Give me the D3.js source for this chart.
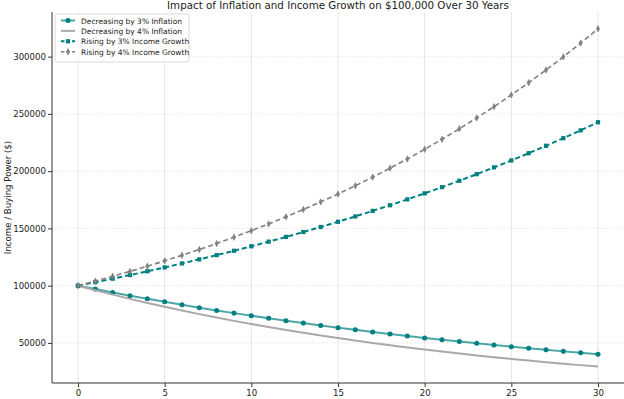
<!DOCTYPE html>
<meta charset="utf-8">
<style>
    body { margin: 0; background: #fff; }
    svg text { font-family: "DejaVu Sans", sans-serif; fill: #222; }
</style>
<script src="https://d3js.org/d3.v7.min.js"></script>
<body>
<div id="chart"></div>
<script>
    // years 0..30
    var years = d3.range(0, 31);
    var xTicks = [0, 5, 10, 15, 20, 25, 30];
    var yTicks = [50000, 100000, 150000, 200000, 250000, 300000];

    var dec3 = [100000, 97000, 94090, 91267, 88529, 85873, 83297, 80798, 78374, 76023, 73742,
        71530, 69384, 67303, 65284, 63325, 61425, 59583, 57795, 56061, 54379,
        52748, 51166, 49631, 48142, 46697, 45296, 43938, 42619, 41341, 40101];
    var dec4 = [100000, 96000, 92160, 88474, 84935, 81537, 78276, 75145, 72139, 69253, 66483,
        63824, 61271, 58820, 56467, 54209, 52040, 49959, 47960, 46042, 44200,
        42432, 40735, 39106, 37541, 36040, 34598, 33214, 31886, 30610, 29386];
    var rise3 = [100000, 103000, 106090, 109273, 112551, 115927, 119405, 122987, 126677, 130477, 134392,
        138423, 142576, 146853, 151259, 155797, 160471, 165285, 170243, 175351, 180611,
        186029, 191610, 197359, 203279, 209378, 215659, 222129, 228793, 235657, 242726];
    var rise4 = [100000, 104000, 108160, 112486, 116986, 121665, 126532, 131593, 136857, 142331, 148024,
        153945, 160103, 166507, 173168, 180094, 187298, 194790, 202582, 210685, 219112,
        227877, 236992, 246472, 256330, 266584, 277247, 288337, 299870, 311865, 324340];

    var series = [
        {name: "Decreasing by 3% Inflation", values: dec3, color: "#008080", dash: null, marker: "circle", width: 2},
        {name: "Decreasing by 4% Inflation", values: dec4, color: "#a9a9a9", dash: null, marker: null, width: 2},
        {name: "Rising by 3% Income Growth", values: rise3, color: "#008080", dash: "5,3", marker: "square", width: 2},
        {name: "Rising by 4% Income Growth", values: rise4, color: "#808080", dash: "5,3", marker: "diamond", width: 1.6}
    ];

    var W = 624, H = 399;
    var margin = {top: 12, right: 0, bottom: 16, left: 52};
    var width = W - margin.left - margin.right,
        height = H - margin.top - margin.bottom;

    var svg = d3.select("#chart").append("svg")
        .attr("width", W).attr("height", H);
    var g = svg.append("g")
        .attr("transform", "translate(" + margin.left + "," + margin.top + ")");

    var x = d3.scaleLinear().domain([-1.5, 31.5]).range([0, width]);
    var y = d3.scaleLinear().domain([15000, 339000]).range([height, 0]);

    // grid
    g.append("g").selectAll("line").data(xTicks).enter().append("line")
        .attr("x1", function(d) { return x(d); }).attr("x2", function(d) { return x(d); })
        .attr("y1", 0).attr("y2", height)
        .attr("stroke", "#e2e2e2").attr("stroke-width", 0.9);
    g.append("g").selectAll("line").data(yTicks).enter().append("line")
        .attr("x1", 0).attr("x2", width)
        .attr("y1", function(d) { return y(d); }).attr("y2", function(d) { return y(d); })
        .attr("stroke", "#d8d8d8").attr("stroke-width", 0.8).attr("stroke-dasharray", "1,1.5");

    // axes
    var xAxis = g.append("g").attr("transform", "translate(0," + height + ")")
        .call(d3.axisBottom(x).tickValues(xTicks).tickSize(4).tickPadding(3));
    var yAxis = g.append("g")
        .call(d3.axisLeft(y).tickValues(yTicks).tickSize(4).tickPadding(2).tickFormat(d3.format("d")));
    [xAxis, yAxis].forEach(function(a) {
        a.select(".domain").attr("stroke", "#333").attr("stroke-width", 1);
        a.selectAll(".tick line").attr("stroke", "#333");
        a.selectAll("text").style("font-size", "8.6px").attr("fill", "#222");
    });
    xAxis.select(".domain").attr("d", "M0,0H" + width);
    yAxis.select(".domain").attr("d", "M0,0V" + height);

    var line = d3.line().x(function(d, i) { return x(years[i]); }).y(function(d) { return y(d); });
    var symbols = {circle: d3.symbolCircle, square: d3.symbolSquare, diamond: d3.symbolDiamond};

    function drawMarker(sel, type, color, size) {
        if (type === "diamond") {
            sel.append("path").attr("d", "M0,-3.2L1.6,0L0,3.2L-1.6,0Z")
                .attr("fill", color).attr("stroke", color).attr("stroke-width", 0.6);
        } else {
            sel.append("path").attr("d", d3.symbol().type(symbols[type]).size(size))
                .attr("fill", color);
        }
    }

    series.forEach(function(s) {
        g.append("path").datum(s.values)
            .attr("d", line).attr("fill", "none")
            .attr("stroke", s.color).attr("stroke-width", s.width)
            .attr("stroke-opacity", s.marker === "circle" ? 0.7 : 1)
            .attr("stroke-dasharray", s.dash);
        if (s.marker) {
            g.append("g").selectAll("g").data(s.values).enter().append("g")
                .attr("transform", function(d, i) { return "translate(" + x(years[i]) + "," + y(d) + ")"; })
                .each(function() { drawMarker(d3.select(this), s.marker, s.color, s.marker === "square" ? 18 : 20); });
        }
    });

    // title and y label
    svg.append("text").attr("x", 338).attr("y", 9)
        .attr("text-anchor", "middle").style("font-size", "10.3px")
        .text("Impact of Inflation and Income Growth on $100,000 Over 30 Years");
    svg.append("text")
        .attr("transform", "translate(11," + (margin.top + height / 2) + ") rotate(-90)")
        .attr("text-anchor", "middle").style("font-size", "8.6px")
        .text("Income / Buying Power ($)");

    // legend
    var lg = g.append("g").attr("transform", "translate(3,2)");
    lg.append("rect").attr("width", 134).attr("height", 48).attr("rx", 2)
        .attr("fill", "#fff").attr("fill-opacity", 0.85).attr("stroke", "#d0d0d0").attr("stroke-width", 0.8);
    series.forEach(function(s, i) {
        var row = lg.append("g").attr("transform", "translate(6," + (6.5 + i * 10.4) + ")");
        row.append("line").attr("x1", 0).attr("x2", 14)
            .attr("stroke", s.color).attr("stroke-width", s.width)
            .attr("stroke-opacity", s.marker === "circle" ? 0.7 : 1)
            .attr("stroke-dasharray", s.dash ? "3.5,2" : null);
        if (s.marker) {
            var m = row.append("g").attr("transform", "translate(7,0)");
            drawMarker(m, s.marker, s.color, s.marker === "square" ? 18 : 20);
        }
        row.append("text").attr("x", 20).attr("y", 3)
            .style("font-size", "7.5px").text(s.name);
    });
</script>
</body>
